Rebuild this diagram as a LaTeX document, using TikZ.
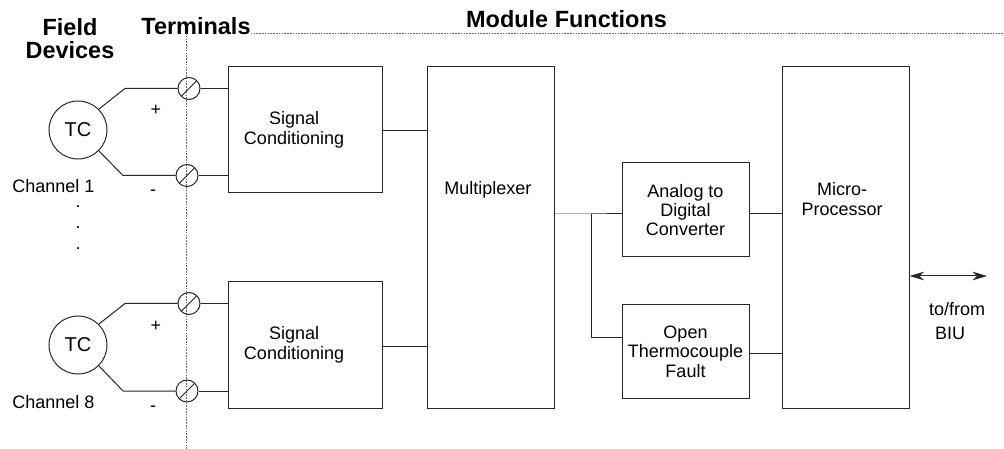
\documentclass[tikz,border=0pt]{standalone}
\usepackage{fontspec}
\setmainfont{Liberation Sans}
\usetikzlibrary{arrows.meta,calc}
\begin{document}
\begin{tikzpicture}[x=0.75pt,y=-0.75pt,
  >={Stealth[length=11pt,width=6.5pt]},
  ln/.style={draw=black!85,line width=0.75pt},
  blk/.style={ln,rectangle,inner sep=0pt,align=center,font=\fontsize{13.5}{14.5}\selectfont},
  inlbl/.style={inner sep=0pt,align=center,font=\fontsize{13.5}{14.5}\selectfont},
  term/.style={circle,draw=black!85,line width=0.75pt,minimum size=16.5pt,inner sep=0pt,
    path picture={\draw[line width=0.75pt,black!85] (path picture bounding box.south west) -- (path picture bounding box.north east);}},
  tc/.style={circle,draw=black!85,line width=0.75pt,minimum size=43.5pt,inner sep=0pt,font=\fontsize{15}{16}\selectfont},
  head/.style={font=\fontsize{17.6}{17.3}\selectfont\bfseries,inner sep=0pt,align=center},
  lbl/.style={font=\fontsize{13.5}{14.5}\selectfont,inner sep=0pt,align=center},
  dotl/.style={draw=black!60,line width=0.6pt,dash pattern=on 1.2pt off 0.9pt}]
\useasboundingbox (0,0) rectangle (1004,449);

% headings
\node[head] (fd) at (70,39) {Field\\Devices};
\node[head,anchor=base] (termh) at (196,35) {Terminals};
\node[head,anchor=base] (modf) at (566.5,28) {Module Functions};

% dotted boundaries
\coordinate (dc) at (186,33);
\coordinate (dr) at (1004,33);
\coordinate (db) at (186,449);
\draw[dotl] (termh.east |- dc) -- (dr);
\draw[dotl] (dc) -- (db);

% blocks
\node[blk,minimum width=115.5pt,minimum height=94.5pt,
  label={[inlbl,xshift=-8.6pt]center:Signal\\Conditioning}] (sc1) at (305.5,130) {};
\node[blk,minimum width=115.5pt,minimum height=94.5pt,
  label={[inlbl,xshift=-8.6pt]center:Signal\\Conditioning}] (sc2) at (305.5,345) {};
\node[blk,minimum width=95.25pt,minimum height=255.75pt,
  label={[inlbl,yshift=35.6pt,xshift=-1.9pt]center:Multiplexer}] (mux) at (490.5,237.5) {};
\node[blk,minimum width=95.25pt,minimum height=70.5pt] (adc) at (685.5,210) {Analog to\\Digital\\Converter};
\node[blk,minimum width=95.25pt,minimum height=69.75pt] (otf) at (685.5,351.5) {Open\\Thermocouple\\Fault};
\node[blk,minimum width=95.25pt,minimum height=255.75pt,
  label={[inlbl,yshift=28.9pt,xshift=-2.6pt]center:Micro-\\Processor}] (mp) at (845.5,237.5) {};

% field devices
\node[tc] (tc1) at (78,130) {TC};
\node[tc] (tc8) at (78,345) {TC};
\node[term] (t1p) at (189,88.5) {};
\node[term] (t1m) at (187,175.5) {};
\node[term] (t8p) at (189,303.5) {};
\node[term] (t8m) at (187,391) {};

\coordinate (b1p) at (125,88.5);
\coordinate (b1m) at (123,175.5);
\coordinate (b8p) at (125,303.5);
\coordinate (b8m) at (123,391);
\draw[ln] (tc1.45) -- (b1p) -- (t1p.west);
\draw[ln] (tc1.-45) -- (b1m) -- (t1m.west);
\draw[ln] (tc8.45) -- (b8p) -- (t8p.west);
\draw[ln] (tc8.-45) -- (b8m) -- (t8m.west);
\draw[ln] (t1p.east) -- (t1p.east -| sc1.west);
\draw[ln] (t1m.east) -- (t1m.east -| sc1.west);
\draw[ln] (t8p.east) -- (t8p.east -| sc2.west);
\draw[ln] (t8m.east) -- (t8m.east -| sc2.west);

\node[lbl] (p1) at (156,110) {+};
\node[lbl] (m1) at (153,193) {-};
\node[lbl] (p8) at (156,326) {+};
\node[lbl] (m8) at (153,409) {-};
\node[lbl,anchor=base west] (ch1) at (12,193) {Channel 1};
\node[lbl,anchor=base west] (ch8) at (12,408) {Channel 8};
\node[lbl,font=\fontsize{13.5}{16}\selectfont,anchor=base] (dots) at (78,250) {.\\.\\.};

% connections
\draw[ln] (sc1.east |- 0,131) -- (mux.west |- 0,131);
\draw[ln] (sc2.east |- 0,346) -- (mux.west |- 0,346);
\coordinate (br) at (591,214);
\draw[ln] (mux.east |- br) -- (br) -- (br -| adc.west);
\draw[ln] (br) |- (otf.west |- 0,337);
\draw[ln] (adc.east |- br) -- (mp.west |- br);
\draw[ln] (otf.east |- 0,353) -- (mp.west |- 0,353);
\coordinate (biu) at (987,276);
\draw[ln,<->] (mp.east |- biu) -- (biu);
\node[lbl] (tf) at (957,309) {to/from};
\node[lbl] (biut) at (950,333) {BIU};
\end{tikzpicture}
\end{document}
